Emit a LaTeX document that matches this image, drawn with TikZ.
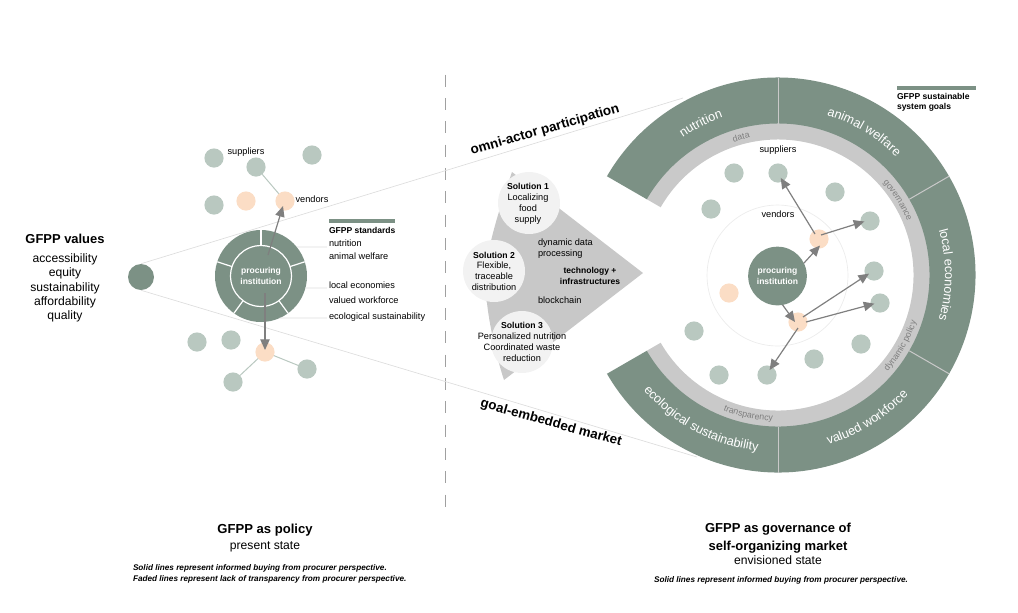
\documentclass[tikz,border=0pt]{standalone}
\usepackage{fontspec}
\setmainfont{Liberation Sans}
\usetikzlibrary{arrows.meta,decorations.text,calc}
\definecolor{sage}{HTML}{7C9185}
\definecolor{dotgreen}{HTML}{B9C8C0}
\definecolor{peach}{HTML}{FBDDC5}
\definecolor{ringgrey}{HTML}{C9C9C9}
\definecolor{fangrey}{HTML}{C8C8C8}
\definecolor{solfill}{HTML}{F2F2F2}
\definecolor{faint}{HTML}{DDDDDD}
\definecolor{arrowgrey}{HTML}{7F7F7F}
\definecolor{divgrey}{HTML}{A0A0A0}
\newcommand{\fs}[1]{\fontsize{#1}{#1}\selectfont}
\tikzset{
  x=0.75pt,y=0.75pt,
  dotg/.style={circle,fill=dotgreen,minimum size=14.4pt,inner sep=0pt,outer sep=0pt},
  dotp/.style={circle,fill=peach,minimum size=14.4pt,inner sep=0pt,outer sep=0pt},
  sol/.style={circle,fill=solfill,minimum size=46.5pt,inner sep=0pt,outer sep=0pt},
  lbl/.style={inner sep=0pt,outer sep=0pt,font=\fs{6.9},text=black,anchor=mid west},
  lblc/.style={inner sep=0pt,outer sep=0pt,font=\fs{6.9},text=black,anchor=mid},
  lead/.style={draw=faint,line width=0.6pt},
  link/.style={draw=dotgreen,line width=0.75pt},
  arr/.style={draw=arrowgrey,line width=0.9pt,-{Triangle[length=8pt,width=7pt]}},
  arrR/.style={arr,shorten >=-3pt},
  ringtext/.style n args={3}{decoration={text along path,text align=center,text={|\fs{#1}\color{#2}|#3}},decorate},
}
\begin{document}
\begin{tikzpicture}
\useasboundingbox (0,0) rectangle (1018,-612);
% divider
\coordinate (divA) at (445.3,-74.6);
\coordinate (divB) at (445.3,-508);
\draw[divgrey,line width=0.75pt,dash pattern=on 9pt off 8.5pt] (divA) -- (divB);
% small values dot & fan lines
\node[circle,fill=sage,minimum size=19.5pt,inner sep=0pt] (valdot) at (141,-277) {};
\coordinate (fanU) at (683,-98);
\coordinate (fanL) at (697,-457);
\draw[lead,line width=0.5pt] (valdot.north) -- (fanU);
\draw[lead,line width=0.5pt] (valdot.south) -- (fanL);
% left links
\node[dotg] (ls1) at (214,-158) {};
\node[dotg] (ls2) at (256,-167) {};
\node[dotg] (ls3) at (312,-155) {};
\node[dotg] (ls4) at (214,-205) {};
\node[dotp] (lp1) at (246,-201) {};
\node[dotp] (lp2) at (285,-201) {};
\node[dotg] (ls5) at (197,-342) {};
\node[dotg] (ls6) at (231,-340) {};
\node[dotp] (lp3) at (265,-352) {};
\node[dotg] (ls7) at (307,-369) {};
\node[dotg] (ls8) at (233,-382) {};
\draw[link] (ls2) -- (lp2);
\draw[link] (lp3) -- (ls7);
\draw[link] (lp3) -- (ls8);
% left policy wheel
\coordinate (lT1) at (327,-247);
\coordinate (lT2) at (327,-288);
\coordinate (lT3) at (327,-318);
\node[circle,fill=sage,minimum size=69pt,inner sep=0pt,outer sep=0pt] (wheel) at (261,-276) {};
\draw[lead] (wheel.39.4) -- (lT1);
\draw[lead] (wheel.-15) -- (lT2);
\draw[lead] (wheel.-66) -- (lT3);
\foreach \a in {90,18,-54,-126,162}{
  \draw[white,line width=0.9pt] ($(wheel.center)+(\a:30.5)$) -- ($(wheel.center)+(\a:46)$);
}
\node[circle,draw=white,line width=0.9pt,fill=sage,minimum size=45.7pt,inner sep=0pt] (instL) at (261,-276) {};
\node[lblc,text=white,font=\fs{6.4}\bfseries] (instLa) at (261,-270) {procuring};
\node[lblc,text=white,font=\fs{6.4}\bfseries] (instLb) at (261,-281) {institution};
\coordinate (la1) at (268,-255);
\coordinate (la2) at (265,-293);
\draw[arr] (la1) -- ($(lp2.center)+(-2,-5)$);
\draw[arr] (la2) -- ($(lp3.center)+(0,2)$);
\node[lblc] (tsupL) at (246,-151) {suppliers};
\node[lblc] (tvenL) at (312,-199) {vendors};
\fill[sage] (329,-219.2) rectangle (395,-222.8);
\node[lbl,font=\fs{6.4}\bfseries] (t1) at (329,-230) {GFPP standards};
\node[lbl] (t2) at (329,-243) {nutrition};
\node[lbl] (t3) at (329,-256) {animal welfare};
\node[lbl] (t4) at (329,-285) {local economies};
\node[lbl] (t5) at (329,-300) {valued workforce};
\node[lbl] (t6) at (329,-316) {ecological sustainability};
% values text
\node[lblc,font=\fs{9.7}\bfseries] (v0) at (65,-240) {GFPP values};
\node[lblc,font=\fs{9.1}] (v1) at (65,-258.5) {accessibility};
\node[lblc,font=\fs{9.1}] (v2) at (65,-273) {equity};
\node[lblc,font=\fs{9.1}] (v3) at (65,-288) {sustainability};
\node[lblc,font=\fs{9.1}] (v4) at (65,-302) {affordability};
\node[lblc,font=\fs{9.1}] (v5) at (65,-316) {quality};
% fan
\fill[fangrey] (512,-172) .. controls (497,-215) and (478,-275) .. (487,-303) .. controls (490,-330) and (498,-362) .. (504,-380) -- (643,-273) -- cycle;
\node[sol] (s1) at (529,-203) {};
\node[sol] (s2) at (494,-271) {};
\node[sol] (s3) at (522,-342) {};
\node[lblc,font=\fs{6.5}\bfseries] at (528,-186) {Solution 1};
\node[lblc] at (528,-197) {Localizing};
\node[lblc] at (528,-208) {food};
\node[lblc] at (528,-219) {supply};
\node[lblc,font=\fs{6.5}\bfseries] at (494,-255) {Solution 2};
\node[lblc] at (494,-265) {Flexible,};
\node[lblc] at (494,-276) {traceable};
\node[lblc] at (494,-287) {distribution};
\node[lblc,font=\fs{6.5}\bfseries] at (522,-325) {Solution 3};
\node[lblc] at (522,-336) {Personalized nutrition};
\node[lblc] at (522,-347) {Coordinated waste};
\node[lblc] at (522,-358) {reduction};
\node[lbl] at (538,-242) {dynamic data};
\node[lbl] at (538,-253) {processing};
\node[lblc,font=\fs{6.4}\bfseries] at (590,-270) {technology +};
\node[lblc,font=\fs{6.4}\bfseries] at (590,-281) {infrastructures};
\node[lbl] at (538,-300) {blockchain};
\node[lblc,font=\fs{10.1}\bfseries,rotate=16.2] at (545,-130) {omni-actor participation};
\node[lblc,font=\fs{10}\bfseries,rotate=-15.6] at (551,-423) {goal-embedded market};
% right rings
\begin{scope}[shift={(778,-275)}]
  \fill[ringgrey] (150:135.5) arc[start angle=150,end angle=-150,radius=135.5] -- (-150:152) arc[start angle=-150,end angle=150,radius=152] -- cycle;
  \fill[sage] (150:151.5) arc[start angle=150,end angle=-150,radius=151.5] -- (-150:197.5) arc[start angle=-150,end angle=150,radius=197.5] -- cycle;
  \foreach \a in {90,30,-30,-90}{
    \draw[line width=0.75pt,color=ringgrey] (\a:151.5) -- (\a:197.5);
  }
  \path[ringtext={9.5}{white}{nutrition}] (147:167) arc[start angle=147,end angle=87,radius=167];
  \path[ringtext={9.5}{white}{animal welfare}] (89:167) arc[start angle=89,end angle=29,radius=167];
  \path[ringtext={9.5}{white}{local economies}] (30:167) arc[start angle=30,end angle=-30,radius=167];
  \path[ringtext={9.5}{white}{valued workforce}] (-88:177) arc[start angle=-88,end angle=-28,radius=177];
  \path[ringtext={9.5}{white}{ecological sustainability}] (-150:177) arc[start angle=-150,end angle=-86,radius=177];
  \path[ringtext={6.6}{arrowgrey}{data}] (125:140) arc[start angle=125,end angle=85,radius=140];
  \path[ringtext={6.6}{arrowgrey}{governance}] (52:140) arc[start angle=52,end angle=12,radius=140];
  \path[ringtext={6.6}{arrowgrey}{dynamic policy}] (-55:146) arc[start angle=-55,end angle=-5,radius=146];
  \path[ringtext={6.6}{arrowgrey}{transparency}] (-127:146) arc[start angle=-127,end angle=-77,radius=146];
\end{scope}
% right inner
\node[circle,draw=faint!60,line width=0.5pt,minimum size=105.7pt,inner sep=0pt] (orbit) at (777.5,-275.5) {};
\node[dotg] (rs1) at (734,-173) {};
\node[dotg] (rs2) at (778,-173) {};
\node[dotg] (rs3) at (835,-192) {};
\node[dotg] (rs4) at (711,-209) {};
\node[dotg] (rs5) at (870,-221) {};
\node[dotg] (rs6) at (874,-271) {};
\node[dotg] (rs7) at (880,-303) {};
\node[dotg] (rs8) at (694,-331) {};
\node[dotg] (rs9) at (719,-375) {};
\node[dotg] (rs10) at (767,-375) {};
\node[dotg] (rs11) at (814,-359) {};
\node[dotg] (rs12) at (861,-344) {};
\node[dotp] (rp1) at (819,-239) {};
\node[dotp] (rp2) at (729,-293) {};
\node[dotp] (rp3) at (798,-322) {};
\node[circle,fill=sage,minimum size=44pt,inner sep=0pt,outer sep=0pt] (instR) at (777.5,-276) {};
\node[lblc,text=white,font=\fs{6.4}\bfseries] at (777.5,-270) {procuring};
\node[lblc,text=white,font=\fs{6.4}\bfseries] at (777.5,-281) {institution};
\draw[arrR] (instR.26) -- (rp1.-100);
\draw[arrR] ($(rp1.center)+(-4,5)$) -- (rs2.-60);
\draw[arrR] ($(rp1.center)+(2,4)$) -- (rs5.190);
\draw[arr] (instR.-80) -- ($(rp3.center)+(-3,0)$);
\draw[arrR] ($(rp3.center)+(5,5)$) -- (rs6.210);
\draw[arrR] ($(rp3.center)+(8,0)$) -- (rs7.190);
\draw[arrR] ($(rp3.center)+(0,-6)$) -- (rs10.60);
\node[lblc] at (778,-149) {suppliers};
\node[lblc] at (778,-214) {vendors};
\fill[sage] (897,-86) rectangle (976,-90);
\node[lbl,font=\fs{6.4}\bfseries] at (897,-96) {GFPP sustainable};
\node[lbl,font=\fs{6.4}\bfseries] at (897,-106) {system goals};
% bottom
\node[lblc,font=\fs{9.8}\bfseries] at (265,-530) {GFPP as policy};
\node[lblc,font=\fs{9.1}] at (265,-546) {present state};
\node[lbl,font=\fs{6.15}\bfseries\itshape] at (133,-567) {Solid lines represent informed buying from procurer perspective.};
\node[lbl,font=\fs{6.15}\bfseries\itshape] at (133,-578) {Faded lines represent lack of transparency from procurer perspective.};
\node[lblc,font=\fs{9.75}\bfseries] at (778,-529) {GFPP as governance of};
\node[lblc,font=\fs{9.75}\bfseries] at (778,-547) {self-organizing market};
\node[lblc,font=\fs{9.1}] at (778,-561) {envisioned state};
\node[lblc,font=\fs{6.15}\bfseries\itshape] at (781,-579) {Solid lines represent informed buying from procurer perspective.};
\end{tikzpicture}
\end{document}
